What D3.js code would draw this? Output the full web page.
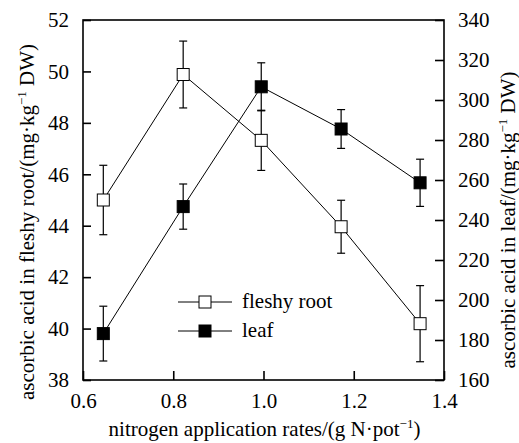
<!DOCTYPE html>
<html>
<head>
<meta charset="utf-8">
<script src="https://cdn.jsdelivr.net/npm/d3@7"></script>
</head>
<body style="margin:0">
<script>
const width = 519, height = 443;
const margin = { top: 20, right: 75, bottom: 63, left: 83 };
const fontFamily = "Liberation Serif, Times New Roman, serif";
const fs = 21;

// nitrogen rates (g N per pot)
const nRates = [0.645, 0.822, 0.995, 1.172, 1.347];
// fleshy root, left axis
const rootMean = [45.0, 49.88, 47.32, 43.96, 40.19];
const rootErr = [1.35, 1.3, 1.17, 1.03, 1.48];
// leaf, right axis
const leafMean = [183.2, 246.7, 306.6, 285.5, 258.6];
const leafErr = [13.7, 11.3, 12.0, 9.7, 11.8];

const xTicks = [0.6, 0.8, 1.0, 1.2, 1.4];
const leftTicks = [38, 40, 42, 44, 46, 48, 50, 52];
const rightTicks = [160, 180, 200, 220, 240, 260, 280, 300, 320, 340];

const svg = d3.select("body").append("svg")
  .attr("width", width).attr("height", height)
  .attr("font-family", fontFamily).attr("font-size", fs);

const x = d3.scaleLinear().domain([0.6, 1.4]).range([margin.left, width - margin.right]);
const yL = d3.scaleLinear().domain([38, 52]).range([height - margin.bottom, margin.top]);
const yR = d3.scaleLinear().domain([160, 340]).range([height - margin.bottom, margin.top]);

// frame
svg.append("rect")
  .attr("x", x(0.6)).attr("y", yL(52))
  .attr("width", x(1.4) - x(0.6)).attr("height", yL(38) - yL(52))
  .attr("fill", "none").attr("stroke", "#000").attr("stroke-width", 1.6);

// axes, ticks point inward
const xAxis = svg.append("g")
  .attr("transform", `translate(0,${yL(38)})`)
  .call(d3.axisBottom(x).tickValues(xTicks).tickSizeInner(-9).tickSizeOuter(0).tickPadding(13)
    .tickFormat(d3.format(".1f")));
const leftAxis = svg.append("g")
  .attr("transform", `translate(${x(0.6)},0)`)
  .call(d3.axisLeft(yL).tickValues(leftTicks).tickSizeInner(-8).tickSizeOuter(0).tickPadding(14)
    .tickFormat(d3.format("d")));
const rightAxis = svg.append("g")
  .attr("transform", `translate(${x(1.4)},0)`)
  .call(d3.axisRight(yR).tickValues(rightTicks).tickSizeInner(-9).tickSizeOuter(0).tickPadding(14)
    .tickFormat(d3.format("d")));

[xAxis, leftAxis, rightAxis].forEach(g => {
  g.attr("font-family", fontFamily).attr("font-size", fs);
  g.select(".domain").remove();
  g.selectAll(".tick line").attr("stroke", "#000").attr("stroke-width", 1.6);
  g.selectAll(".tick text").attr("fill", "#000");
});

// series
const root = nRates.map((n, i) => ({ n, v: rootMean[i], e: rootErr[i] }));
const leaf = nRates.map((n, i) => ({ n, v: leafMean[i], e: leafErr[i] }));

function drawSeries(data, y, fill) {
  const g = svg.append("g");
  g.append("path").datum(data)
    .attr("fill", "none").attr("stroke", "#000").attr("stroke-width", 1)
    .attr("d", d3.line().x(d => x(d.n)).y(d => y(d.v)));
  const eb = g.selectAll(".eb").data(data).join("g");
  eb.append("line")
    .attr("x1", d => x(d.n)).attr("x2", d => x(d.n))
    .attr("y1", d => y(d.v + d.e)).attr("y2", d => y(d.v - d.e))
    .attr("stroke", "#000").attr("stroke-width", 1.2);
  [1, -1].forEach(s => {
    eb.append("line")
      .attr("x1", d => x(d.n) - 4).attr("x2", d => x(d.n) + 4)
      .attr("y1", d => y(d.v + s * d.e)).attr("y2", d => y(d.v + s * d.e))
      .attr("stroke", "#000").attr("stroke-width", 1.2);
  });
  g.selectAll(".pt").data(data).join("rect")
    .attr("x", d => x(d.n) - 6).attr("y", d => y(d.v) - 6)
    .attr("width", 12).attr("height", 12)
    .attr("fill", fill).attr("stroke", "#000").attr("stroke-width", 1);
}
drawSeries(root, yL, "#fff");
drawSeries(leaf, yR, "#000");

// legend
const legend = svg.append("g");
const legendItems = [
  { label: "fleshy root", fill: "#fff", y: 302 },
  { label: "leaf", fill: "#000", y: 331 }
];
legendItems.forEach(it => {
  legend.append("line").attr("x1", 178).attr("x2", 232).attr("y1", it.y).attr("y2", it.y)
    .attr("stroke", "#000").attr("stroke-width", 1);
  legend.append("rect").attr("x", 199).attr("y", it.y - 6).attr("width", 12).attr("height", 12)
    .attr("fill", it.fill).attr("stroke", "#000");
  legend.append("text").attr("x", 242).attr("y", it.y + 6).text(it.label);
});

// axis titles with superscript -1
function supTitle(sel, pre, post) {
  sel.append("tspan").text(pre);
  sel.append("tspan").attr("font-size", Math.round(fs * 0.62)).attr("dy", -8).text("\u22121");
  sel.append("tspan").attr("dy", 8).text(post);
}
const xt = svg.append("text").attr("x", (x(0.6) + x(1.4)) / 2 + 1).attr("y", 436)
  .attr("text-anchor", "middle");
supTitle(xt, "nitrogen application rates/(g N\u00b7pot", ")");

const lt = svg.append("text").attr("text-anchor", "middle")
  .attr("transform", `translate(34,${(yL(38) + yL(52)) / 2 + 22}) rotate(-90)`);
supTitle(lt, "ascorbic acid in fleshy root/(mg\u00b7kg", " DW)");

const rt = svg.append("text").attr("text-anchor", "middle")
  .attr("transform", `translate(515,${(yL(38) + yL(52)) / 2 + 20}) rotate(-90)`);
supTitle(rt, "ascorbic acid in leaf/(mg\u00b7kg", " DW)");
</script>
</body>
</html>
